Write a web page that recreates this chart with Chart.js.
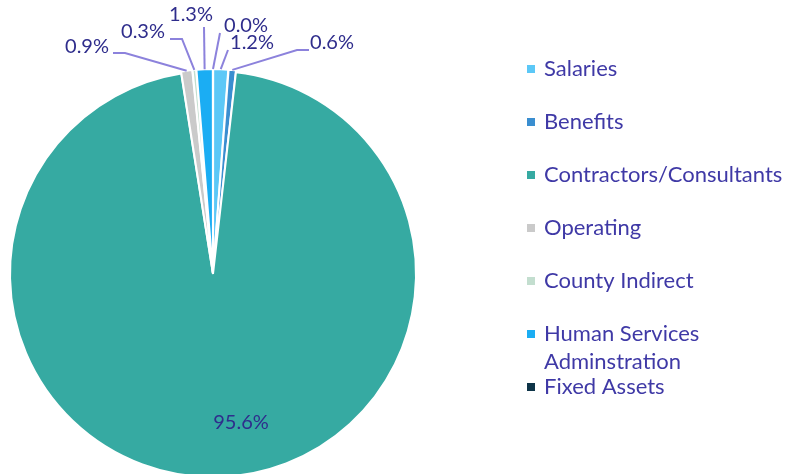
<!DOCTYPE html>
<html>
<head>
<meta charset="utf-8">
<script src="https://cdn.jsdelivr.net/npm/chart.js@4/dist/chart.umd.min.js"></script>
<style>
  html, body { margin: 0; padding: 0; background: #ffffff; overflow: hidden; }
  #wrap { position: absolute; left: 0; top: 0; width: 787px; height: 480px; }
</style>
</head>
<body>
<div id="wrap"><canvas id="chart"></canvas></div>
<script>
// Budget categories and their share of the total (percent)
const categories = [
  'Salaries',
  'Benefits',
  'Contractors/Consultants',
  'Operating',
  'County Indirect',
  'Human Services Adminstration',
  'Fixed Assets'
];
const shares = [1.2, 0.6, 95.6, 0.9, 0.3, 1.3, 0.0];
const sliceColors = ['#5CC8F7', '#3A8ED0', '#36AAA2', '#CACACA', '#C3DECF', '#1BADF3', '#0E3448'];

const labelColor = '#2F2D8C';
const legendColor = '#3F39A6';
const leaderColor = '#8C82DC';
const fontFamily = 'Lato, "Open Sans", sans-serif';

// Where each slice's value label sits, with its leader-line elbow (small slices)
const calloutPlacement = {
  0: { tx: 252, ty: 43, path: [[228, 50]] },
  1: { tx: 332, ty: 43, path: [[309, 50], [297, 50]] },
  2: { tx: 241, ty: 423 },
  3: { tx: 87, ty: 47, path: [[113, 53], [125, 53]] },
  4: { tx: 143, ty: 32, path: [[170, 39], [182, 39]] },
  5: { tx: 191, ty: 15, path: [[204, 27]] },
  6: { tx: 246, ty: 26, path: [[220, 33]] }
};

const pctText = v => v.toFixed(1) + '%';

const callouts = {
  id: 'callouts',
  afterDatasetsDraw(chart) {
    const ctx = chart.ctx;
    const meta = chart.getDatasetMeta(0);
    const values = chart.data.datasets[0].data;
    ctx.save();
    ctx.font = '20px ' + fontFamily;
    ctx.textAlign = 'center';
    ctx.textBaseline = 'middle';
    meta.data.forEach((arc, i) => {
      const p = arc.getProps(['x', 'y', 'startAngle', 'endAngle', 'outerRadius'], true);
      const mid = (p.startAngle + p.endAngle) / 2;
      const place = calloutPlacement[i];
      if (place.path) {
        const off = arc.options.offset || 0;
        const r = p.outerRadius + off - 2;
        const ax = p.x + Math.cos(mid) * r;
        const ay = p.y + Math.sin(mid) * r;
        ctx.strokeStyle = leaderColor;
        ctx.lineWidth = 2;
        ctx.beginPath();
        ctx.moveTo(place.path[0][0], place.path[0][1]);
        for (let k = 1; k < place.path.length; k++) ctx.lineTo(place.path[k][0], place.path[k][1]);
        ctx.lineTo(ax, ay);
        ctx.stroke();
      }
      ctx.fillStyle = labelColor;
      ctx.fillText(pctText(values[i]), place.tx, place.ty);
    });
    ctx.restore();
  }
};

const sideLegend = {
  id: 'sideLegend',
  afterDraw(chart) {
    const ctx = chart.ctx;
    const labels = chart.data.labels;
    const colors = chart.data.datasets[0].backgroundColor;
    const rowY = [69, 122, 175, 228, 281, 334, 387];
    const lineGap = 28;
    const textX = 544, boxX = 527, box = 8, maxW = 243;
    ctx.save();
    ctx.font = '22px ' + fontFamily;
    ctx.textBaseline = 'middle';
    ctx.textAlign = 'left';
    labels.forEach((lab, i) => {
      // greedy word wrap
      const words = lab.split(' ');
      const lines = [];
      let cur = '';
      words.forEach(w => {
        const test = cur ? cur + ' ' + w : w;
        if (cur && ctx.measureText(test).width > maxW) { lines.push(cur); cur = w; }
        else cur = test;
      });
      lines.push(cur);
      const y = rowY[i];
      ctx.fillStyle = colors[i];
      ctx.fillRect(boxX, y - box / 2, box, box);
      ctx.fillStyle = legendColor;
      lines.forEach((ln, k) => ctx.fillText(ln, textX, y + k * lineGap));
    });
    ctx.restore();
  }
};

new Chart(document.getElementById('chart'), {
  type: 'pie',
  data: {
    labels: categories,
    datasets: [{
      data: shares,
      backgroundColor: sliceColors,
      borderColor: '#ffffff',
      borderWidth: 2,
      offset: ctx => (ctx.raw < 5 ? 4 : 0)
    }]
  },
  options: {
    responsive: true,
    maintainAspectRatio: false,
    animation: false,
    radius: 203,
    layout: { padding: { left: 10, right: 371, top: 70, bottom: 2 } },
    plugins: {
      legend: { display: false },
      tooltip: { enabled: false }
    }
  },
  plugins: [callouts, sideLegend]
});
</script>
</body>
</html>
